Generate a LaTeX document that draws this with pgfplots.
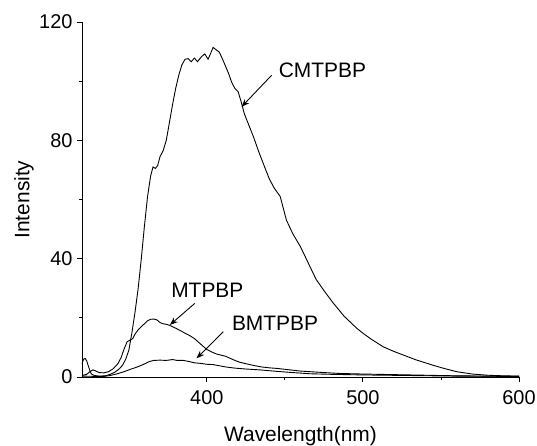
\documentclass[border=0pt]{standalone}
\usepackage{fontspec}
\setmainfont{Liberation Sans}
\usepackage{pgfplots}
\pgfplotsset{compat=1.18}
\usetikzlibrary{arrows.meta}

\pgfplotstableread{
wl I
320 4.5
321 6.0
322 6.3
323 5.5
324 3.8
325 2.2
326 1.0
328 0.5
331 0.3
335 0.4
338 0.9
341 1.6
344 2.8
346 4.0
348 6.0
350 9.0
352 15
354 22
356 30
358 40
360 51
362 61
364 68
365.5 71
367 70.5
368.5 71.5
370 74.5
372 76.5
374 80
376 86
378 92
380 97.5
382 102
384 105.5
386 107.4
388 107.6
390 106.6
392 107.8
394 106.6
396.6 108.3
398.7 109.2
400.8 107.4
402.5 109.5
404 111.4
406 110.6
408 109.8
410 107.5
412 105
414 102.5
416 99.5
418 97.5
420 96.5
422 93
424 89
427 85
430 81
433 76.5
437 71
440 67
443 64
447 61
451 53
455 48.5
460 44
465 38.5
470 33
476 28.5
481 25
488 20.5
496 16.5
500 14.8
505 12.9
513 10.2
520 8.6
527 7.2
534 5.8
540 4.8
546 3.8
552 2.9
560 1.8
570 1.0
580 0.6
590 0.4
600 0.3
}\cmtpbp

\pgfplotstableread{
wl I
320 0.5
323 0.9
325 1.8
327 2.4
329 2.0
331 1.5
334 1.4
337 1.8
340 2.8
343 4.5
345 6.5
347 9.5
349 12
351 12.5
352.5 13
354 14.5
356 16
358 17
360 18
362 19
364 19.5
366 19.6
368 19.3
370 18.4
372 18
374 17.8
376 17.5
378 17
380 16.5
383 15.7
386 14.8
389 14
392 13
395 11.6
398 10.2
400 9.3
403 8.5
406 7.8
409 7.4
412 7.0
415 6.3
418 5.6
421 5.0
425 4.5
430 3.9
435 3.4
440 3.1
445 2.9
450 2.6
455 2.3
460 2.0
466 1.8
475 1.5
485 1.2
500 1.0
520 0.8
540 0.6
560 0.4
580 0.3
600 0.2
}\mtpbp

\pgfplotstableread{
wl I
320 0.3
330 0.2
334 0.2
338 0.5
342 1.0
347 1.8
351 2.6
356 3.5
360 4.4
363 5.2
366 5.6
370 5.7
374 5.6
378 5.9
381 5.6
385 5.6
388 5.3
392 4.8
396 4.6
400 4.3
404 4.2
408 3.8
412 3.4
418 3.0
425 2.7
434 2.4
445 1.9
455 1.5
466 1.1
480 0.9
500 0.7
530 0.5
560 0.3
600 0.2
}\bmtpbp

\begin{document}
\begin{tikzpicture}
\useasboundingbox (0,0) rectangle (537bp,446bp);
\begin{axis}[
    at={(82bp,69bp)}, anchor=south west,
    scale only axis,
    width=437bp, height=355bp,
    xmin=320, xmax=600,
    ymin=0, ymax=120,
    axis x line=bottom, axis y line=left,
    axis line style={-, line width=0.9bp},
    xtick={400,500,600}, ytick={0,40,80,120},
    minor x tick num=1, minor y tick num=1,
    tick align=outside,
    major tick length=5bp, minor tick length=3bp,
    tick style={line width=0.9bp, black},
    font=\fontsize{21}{24}\selectfont,
    tick label style={font=\fontsize{20}{23}\selectfont},
    xticklabel style={yshift=-5bp},
    yticklabel style={xshift=-1bp},
    /pgf/number format/assume math mode=true,
    xlabel={Wavelength(nm)}, ylabel={Intensity},
    every axis x label/.style={at={(axis description cs:0.5,-0.166)}, anchor=center},
    every axis y label/.style={at={(axis description cs:-0.133,0.5)}, rotate=90, anchor=center},
    clip=false,
]
\addplot[black, line width=0.9bp] table[x=wl, y=I] {\cmtpbp};
\addplot[black, line width=0.9bp] table[x=wl, y=I] {\mtpbp};
\addplot[black, line width=0.9bp] table[x=wl, y=I] {\bmtpbp};

\node[anchor=west, inner sep=0pt] at (axis cs:446,103.8) {CMTPBP};
\draw[line width=0.9bp, -{Stealth[length=8bp, width=6bp]}] (axis cs:441.5,102) -- (axis cs:422.2,91.3);

\node[inner sep=0pt] at (axis cs:400.3,29.4) {MTPBP};
\draw[line width=0.9bp, -{Stealth[length=8bp, width=6bp]}] (axis cs:392.3,24.9) -- (axis cs:376.3,17.6);

\node[anchor=west, inner sep=0pt] at (axis cs:416,18.3) {BMTPBP};
\draw[line width=0.9bp, -{Stealth[length=8bp, width=6bp]}] (axis cs:410.5,15.3) -- (axis cs:393.4,6.3);
\end{axis}
\end{tikzpicture}
\end{document}
